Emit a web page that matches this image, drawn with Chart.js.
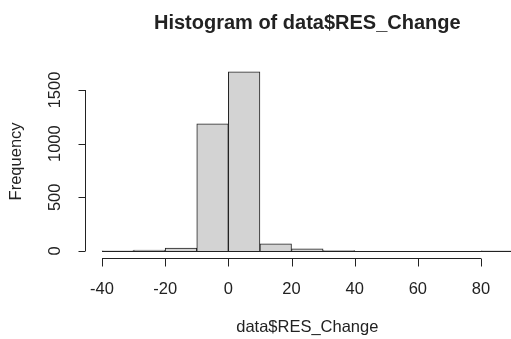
<!DOCTYPE html>
<html lang="en">
<head>
    <meta charset="UTF-8">
    <title>Histogram of data$RES_Change</title>
    <script src="https://cdn.jsdelivr.net/npm/chart.js"></script>
    <style>
        body {
            margin: 0;
            overflow: hidden;
            background: #fff;
        }
        #chartContainer {
            width: 545px;
            height: 339px;
        }
    </style>
</head>
<body>
    <div id="chartContainer">
        <canvas id="histChart"></canvas>
    </div>

    <script>
        // bin edges every 10 units, counts
        const binStarts = [-40, -30, -20, -10, 0, 10, 20, 30, 40, 50, 60, 70, 80];
        const counts = [1, 8, 28, 1185, 1670, 68, 20, 5, 0, 0, 0, 0, 1];
        const xTicks = [-40, -20, 0, 20, 40, 60, 80];
        const yTicks = [0, 500, 1000, 1500];
        const binWidth = 10;

        const font = '"Liberation Sans", Arial, sans-serif';

        // R-style axes, titles and zero-height bins
        const rAxes = {
            id: 'rAxes',
            afterDraw(chart) {
                const c = chart.ctx;
                const x = chart.scales.x;
                const y = chart.scales.y;
                const area = chart.chartArea;
                c.save();
                c.strokeStyle = '#222';
                c.fillStyle = '#222';
                c.lineWidth = 1;

                // flat outline for the whole range of bins
                const y0 = Math.round(y.getPixelForValue(0)) + 0.5;
                c.beginPath();
                c.moveTo(x.getPixelForValue(binStarts[0]), y0);
                c.lineTo(x.getPixelForValue(binStarts[binStarts.length - 1] + binWidth), y0);
                c.stroke();

                // x axis
                const ax = Math.round(area.bottom) + 0.5;
                c.beginPath();
                c.moveTo(x.getPixelForValue(xTicks[0]), ax);
                c.lineTo(x.getPixelForValue(xTicks[xTicks.length - 1]), ax);
                xTicks.forEach(v => {
                    const px = Math.round(x.getPixelForValue(v)) + 0.5;
                    c.moveTo(px, ax);
                    c.lineTo(px, ax + 8);
                });
                c.stroke();
                c.font = '16.5px ' + font;
                c.textAlign = 'center';
                c.textBaseline = 'middle';
                xTicks.forEach(v => c.fillText(String(v), x.getPixelForValue(v), 289));

                // y axis
                const ay = Math.round(area.left) - 0.5;
                c.beginPath();
                c.moveTo(ay, y.getPixelForValue(yTicks[0]));
                c.lineTo(ay, y.getPixelForValue(yTicks[yTicks.length - 1]));
                yTicks.forEach(v => {
                    const py = Math.round(y.getPixelForValue(v)) + 0.5;
                    c.moveTo(ay, py);
                    c.lineTo(ay - 7, py);
                });
                c.stroke();
                yTicks.forEach(v => {
                    c.save();
                    c.translate(55, y.getPixelForValue(v));
                    c.rotate(-Math.PI / 2);
                    c.fillText(String(v), 0, 0);
                    c.restore();
                });

                // titles
                const midX = (area.left + area.right) / 2;
                const midY = (area.top + area.bottom) / 2;
                c.fillText('data$RES_Change', midX, 327);
                c.save();
                c.translate(16, midY);
                c.rotate(-Math.PI / 2);
                c.fillText('Frequency', 0, 0);
                c.restore();
                c.font = 'bold 20px ' + font;
                c.fillText('Histogram of data$RES_Change', midX, 23);
                c.restore();
            }
        };

        const ctx = document.getElementById('histChart').getContext('2d');

        new Chart(ctx, {
            type: 'bar',
            data: {
                datasets: [{
                    data: binStarts.map((b, i) => ({ x: b + binWidth / 2, y: counts[i] })),
                    backgroundColor: '#d3d3d3',
                    borderColor: '#222',
                    borderWidth: 1,
                    barPercentage: 1,
                    categoryPercentage: 1
                }]
            },
            options: {
                responsive: true,
                maintainAspectRatio: false,
                animation: false,
                layout: {
                    padding: { left: 85.6, right: 16, top: 64.6, bottom: 80.8 }
                },
                scales: {
                    x: { type: 'linear', min: -45.2, max: 95.2, display: false, offset: false },
                    y: { min: -66.8, max: 1736.8, display: false }
                },
                plugins: {
                    legend: { display: false },
                    tooltip: { enabled: false }
                }
            },
            plugins: [rAxes]
        });
    </script>
</body>
</html>
